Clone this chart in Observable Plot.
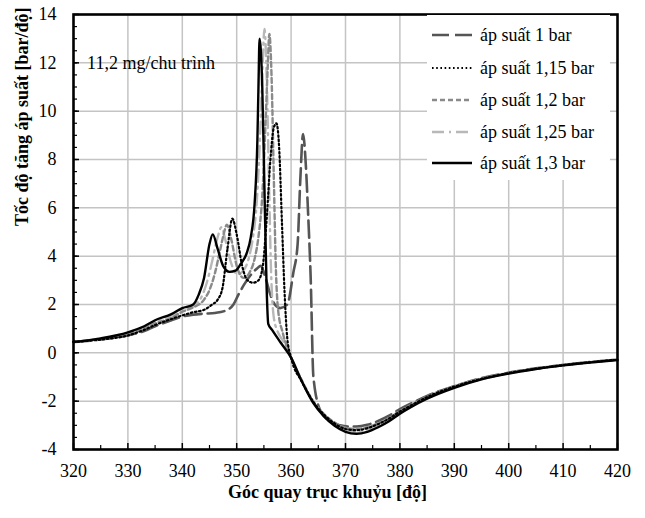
<!DOCTYPE html>
<html><head><meta charset="utf-8">
<script src="https://cdn.jsdelivr.net/npm/d3@7"></script>
<script src="https://cdn.jsdelivr.net/npm/@observablehq/plot@0.6"></script>
<style>
body{margin:0;background:#fff}
#wrap{position:relative;width:645px;height:518px}
#legend{position:absolute;left:427px;top:15px;width:183px;height:165px;background:#fff;font-family:'Liberation Serif',serif;font-size:18px;color:#000}
.row{position:absolute;left:0;height:24px;display:flex;align-items:center;white-space:nowrap}
</style></head>
<body><div id="wrap"><div id="legend"></div></div>
<script>
// ---- data ----
const seriesNames = ["áp suất 1 bar","áp suất 1,15 bar","áp suất 1,2 bar","áp suất 1,25 bar","áp suất 1,3 bar"];

const angle1 = [320,325,330,333,335,338,340,342,344,346,348,349.4,350.3,351.3,352.5,353.8,354.4,355.3,356.2,357,358,359.3,360.4,361.2,361.7,362.2,362.7,363.1,363.6,364.1,365.4,367,369,370.5,372,374,376,378,380,382,385,390,395,400,405,410,415,420];
const value1 = [0.45,0.55,0.72,0.9,1.1,1.35,1.5,1.58,1.62,1.65,1.75,2.0,2.4,2.8,3.2,3.5,3.6,3.1,2.4,2.0,1.85,2.0,3.3,4.5,7.2,9.05,7.8,5.9,3.1,-1.0,-2.4,-2.8,-3.0,-3.05,-3.05,-2.98,-2.82,-2.6,-2.33,-2.1,-1.78,-1.38,-1.05,-0.82,-0.64,-0.5,-0.38,-0.28];

const angle115 = [320,325,330,333,335,338,340,342,344,345.5,346.5,347.4,348.3,349.2,350,351,352,353,354,354.8,355.5,356.2,356.8,357.3,357.8,358.3,358.8,359.3,360,362,364,366,368,370,372,374,376,378,380,382,385,390,395,400,405,410,415,420];
const value115 = [0.45,0.55,0.72,0.95,1.15,1.4,1.55,1.68,1.78,2.0,2.2,2.7,4.3,5.55,4.9,3.6,3.0,2.9,3.0,3.6,5.5,8.0,9.3,9.5,8.5,5.5,2.5,0.6,-0.2,-1.2,-2.0,-2.55,-2.92,-3.15,-3.2,-3.12,-2.95,-2.72,-2.43,-2.18,-1.83,-1.4,-1.08,-0.84,-0.66,-0.51,-0.39,-0.28];

const angle12 = [320,325,330,333,335,338,340,342,344,345,346,347,347.6,348.2,349,350,351.3,352.3,353.3,354,354.7,355.3,355.7,356.0,356.4,356.8,357.2,357.6,358.5,360,362,364,366,368,370,372,374,376,378,380,382,385,390,395,400,405,410,415,420];
const value12 = [0.45,0.57,0.78,1.0,1.22,1.45,1.7,1.88,2.2,2.6,3.3,4.3,4.9,5.3,4.7,3.6,3.1,3.3,3.9,4.8,6.5,9.5,11.8,13.2,11.5,7.5,3.5,1.8,0.8,-0.2,-1.15,-1.98,-2.52,-2.88,-3.1,-3.15,-3.08,-2.92,-2.7,-2.41,-2.16,-1.81,-1.38,-1.06,-0.83,-0.65,-0.5,-0.38,-0.28];

const angle125 = [320,325,330,333,335,338,340,342,343.5,344.5,345.5,346.4,347.2,348,349,350.1,351.2,352.2,353,353.7,354.3,354.7,355.1,355.5,355.9,356.3,356.8,357.5,358.5,360,362,364,366,368,370,372,374,376,378,380,382,385,390,395,400,405,410,415,420];
const value125 = [0.45,0.58,0.8,1.05,1.3,1.55,1.75,1.95,2.3,2.9,3.8,4.7,5.2,4.6,3.7,3.25,3.4,3.9,4.8,6.3,9.0,11.5,13.4,11.5,7.5,3.5,1.5,0.9,0.5,-0.2,-1.18,-2.02,-2.57,-2.95,-3.18,-3.25,-3.17,-3.0,-2.76,-2.46,-2.2,-1.85,-1.42,-1.09,-0.85,-0.67,-0.52,-0.4,-0.29];

const angle13 = [320,325,330,333,335,338,340,342,343,344,345,345.6,346.5,347.5,348.7,349.8,350.8,351.8,352.6,353.3,353.8,354.0,354.2,354.7,355.1,355.5,355.8,356.5,358,360,362,364,366,368,370,372,374,376,378,380,382,385,390,395,400,405,410,415,420];
const value13 = [0.45,0.6,0.85,1.1,1.35,1.6,1.85,2.0,2.4,3.1,4.5,4.9,4.3,3.6,3.35,3.4,3.7,4.1,4.8,6.2,8.8,11.0,13.0,11.0,6.8,2.7,1.2,0.95,0.45,-0.2,-1.2,-2.05,-2.62,-3.02,-3.27,-3.35,-3.27,-3.08,-2.83,-2.52,-2.25,-1.9,-1.45,-1.1,-0.86,-0.67,-0.52,-0.4,-0.3];

const xTickLabels = [320,330,340,350,360,370,380,390,400,410,420];
const yTickLabels = [-4,-2,0,2,4,6,8,10,12,14];
const xMinorTicks = [325,335,345,355,365,375,385,395,405,415];
const yMinorTicks = d3.range(-3.5, 14, 0.5);
const annotation = "11,2 mg/chu trình";
const xTitle = "Góc quay trục khuỷu [độ]";
const yTitle = "Tốc độ tăng áp suất [bar/độ]";

// ---- styles ----
const styles = [
  {stroke:"#555555", strokeWidth:2.6, dash:"17,6"},
  {stroke:"#000000", strokeWidth:2.2, dash:"1.6,2.6"},
  {stroke:"#8a8a8a", strokeWidth:2.4, dash:"5,3"},
  {stroke:"#b8b8b8", strokeWidth:2.4, dash:"12,5,2,5"},
  {stroke:"#000000", strokeWidth:2.4, dash:null}
];
const seriesData = [[angle1,value1],[angle115,value115],[angle12,value12],[angle125,value125],[angle13,value13]]
  .map(([a,v]) => a.map((x,i)=>({x, y:v[i]})));

const W = 645, H = 518, mL = 73, mR = 28, mT = 14, mB = 69;
const fw = W - mL - mR, fh = H - mT - mB;
const order = [0,3,2,1,4];

const chart = Plot.plot({
  width: W, height: H, marginLeft: mL, marginRight: mR, marginTop: mT, marginBottom: mB,
  x: {domain: [320, 420]},
  y: {domain: [-4, 14]},
  style: {fontFamily: "'Liberation Serif', serif", fontSize: "18px", color: "#000", background: "#fff"},
  marks: [
    Plot.gridX(xTickLabels.slice(1,-1), {stroke: "#c4c4c4", strokeOpacity: 1, strokeWidth: 1.5}),
    Plot.gridY(yTickLabels.slice(1,-1), {stroke: "#c4c4c4", strokeOpacity: 1, strokeWidth: 1.5}),
    Plot.tickY(yMinorTicks, {y: d => d, insetRight: fw - 4, stroke: "#000", strokeWidth: 1.2}),
    Plot.tickY(yTickLabels, {y: d => d, insetRight: fw - 6, stroke: "#000", strokeWidth: 1.5}),
    Plot.tickX(xMinorTicks, {x: d => d, insetTop: fh - 4, stroke: "#000", strokeWidth: 1.2}),
    Plot.tickX(xTickLabels, {x: d => d, insetTop: fh - 6, stroke: "#000", strokeWidth: 1.5}),
    ...order.map(i => Plot.line(seriesData[i], {x: "x", y: "y", curve: "monotone-x",
        stroke: styles[i].stroke, strokeWidth: styles[i].strokeWidth,
        strokeDasharray: styles[i].dash || undefined})),
    Plot.frame({stroke: "#000", strokeWidth: 2.6}),
    Plot.axisX(xTickLabels, {tickSize: 0, tickPadding: 15, label: null, tickFormat: d => String(d), fontSize: 18}),
    Plot.axisY(yTickLabels, {tickSize: 0, tickPadding: 17, label: null, tickFormat: d => String(d), fontSize: 18}),
    Plot.text([annotation], {x: 322.5, y: 12, text: d => d, textAnchor: "start", fontSize: 18}),
    Plot.text([xTitle], {frameAnchor: "bottom", text: d => d, dy: 48, dx: -18, fontWeight: "bold", fontSize: 18}),
    Plot.text([yTitle], {frameAnchor: "left", text: d => d, rotate: -90, dx: -51, dy: -6, fontWeight: "bold", fontSize: 18})
  ]
});
document.getElementById("wrap").prepend(chart);

// legend
const legend = document.getElementById("legend");
const rowCenters = [20, 53, 85, 117, 148];
seriesNames.forEach((name, i) => {
  const row = document.createElement("div");
  row.className = "row";
  row.style.top = (rowCenters[i] - 12) + "px";
  const s = styles[i];
  row.innerHTML = `<svg width="50" height="24"><line x1="5" x2="45" y1="12" y2="12" stroke="${s.stroke}" stroke-width="${s.strokeWidth}" ${s.dash ? `stroke-dasharray="${s.dash}"` : ""}/></svg><span style="margin-left:3px">${name}</span>`;
  legend.appendChild(row);
});
</script>
</body></html>
